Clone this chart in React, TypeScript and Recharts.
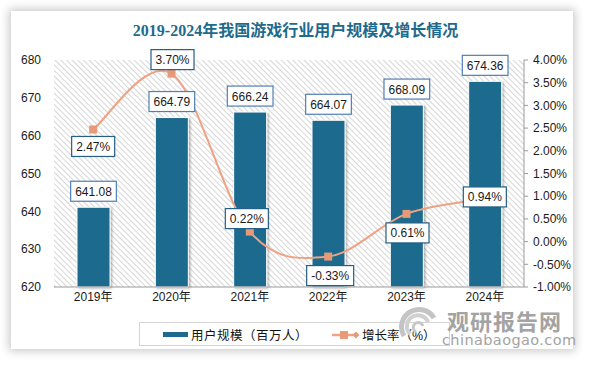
import React from 'react';
import { ComposedChart, Bar, Line, XAxis, YAxis, CartesianGrid, LabelList, Legend } from 'recharts';

const years = ['2019年', '2020年', '2021年', '2022年', '2023年', '2024年'];
const users = [641.08, 664.79, 666.24, 664.07, 668.09, 674.36];
const growth = [2.47, 3.7, 0.22, -0.33, 0.61, 0.94];
const leftTicks = [620, 630, 640, 650, 660, 670, 680];
const rightTicks = [-1, -0.5, 0, 0.5, 1, 1.5, 2, 2.5, 3, 3.5, 4];

const data = years.map((year, i) => ({ year, users: users[i], growth: growth[i] }));

// layout / style
const BAR = '#1d6a8e';
const LINE = '#eea283';
const MARK = '#e89a78';
const TITLE = '#1e6a8d';
const FONT = '"Liberation Sans", "Noto Sans CJK SC", sans-serif';
const growthLabelOffset: [number, number][] = [[0, 17], [1, -14], [-3, -13], [2, 19], [1, 19], [0, -2]];

function textWidth(s: string, size = 12) {
  let w = 0;
  for (const c of s) {
    if (/[0-9]/.test(c)) w += 0.556;
    else if (c === '.') w += 0.278;
    else if (c === '%') w += 0.889;
    else if (c === '-') w += 0.333;
    else w += 0.556;
  }
  return w * size;
}

const excelCurve: any = (context: any) => {
  let pts: number[][] = [];
  return {
    areaStart() {},
    areaEnd() {},
    lineStart() { pts = []; },
    point(x: number, y: number) { pts.push([+x, +y]); },
    lineEnd() {
      if (!pts.length) return;
      context.moveTo(pts[0][0], pts[0][1]);
      for (let i = 0; i < pts.length - 1; i++) {
        const p0 = pts[i - 1] || pts[i];
        const p1 = pts[i];
        const p2 = pts[i + 1];
        const p3 = pts[i + 2] || p2;
        const c1x = p1[0] + (p2[0] - p0[0]) / 6;
        const c1y = p1[1] + (p2[1] - p0[1]) / 6;
        const c2x = p2[0] - (p3[0] - p1[0]) / 6;
        const c2y = p2[1] - (p3[1] - p1[1]) / 6;
        context.bezierCurveTo(c1x, c1y, c2x, c2y, p2[0], p2[1]);
      }
    },
  };
};

function BoxLabel({ cx, cy, text, border }: { cx: number; cy: number; text: string; border: string }) {
  const w = textWidth(text) + 9;
  const h = 20;
  return (
    <g>
      <rect x={cx - w / 2} y={cy - h / 2} width={w} height={h} fill="#fff" stroke={border} strokeWidth={1.2} />
      <text x={cx} y={cy + 0.5} textAnchor="middle" dominantBaseline="central" fontSize={12} fill="#1a1a1a" fontFamily={FONT}>
        {text}
      </text>
    </g>
  );
}

const renderBarLabel = (props: any) => {
  const vb = props.viewBox || props;
  const x = vb.x ?? props.x;
  const y = vb.y ?? props.y;
  const width = vb.width ?? props.width ?? 0;
  const value = Number(props.value);
  return <BoxLabel cx={x + width / 2} cy={y - 16} text={value.toFixed(2)} border="#4f7fb5" />;
};

const renderLineLabel = (props: any) => {
  const vb = props.viewBox || props;
  const x = vb.x ?? props.x;
  const y = vb.y ?? props.y;
  const value = Number(props.value);
  let idx = typeof props.index === 'number' ? props.index : growth.indexOf(value);
  if (idx < 0) idx = 0;
  const [dx, dy] = growthLabelOffset[idx];
  return <BoxLabel cx={x + dx} cy={y + dy} text={value.toFixed(2) + '%'} border="#245f85" />;
};

const renderDot = (p: any) => (
  <rect key={'d' + p.index} x={p.cx - 4} y={p.cy - 4} width={8} height={8} fill={MARK} />
);

const LegendBox = () => (
  <div
    style={{
      position: 'relative', width: 311, height: 24, boxSizing: 'border-box',
      border: '1px solid #d4d4d4', background: '#fff', fontFamily: FONT, fontSize: 12.5, color: '#111',
    }}
  >
    <div style={{ position: 'absolute', left: 23, top: 9, width: 25, height: 5, background: BAR }} />
    <span style={{ position: 'absolute', left: 51, top: 2, letterSpacing: 0.5, whiteSpace: 'nowrap' }}>用户规模（百万人）</span>
    <svg style={{ position: 'absolute', left: 192, top: 5 }} width={30} height={14}>
      <line x1={0} y1={7} x2={26} y2={7} stroke={LINE} strokeWidth={2.5} />
      <rect x={8} y={3} width={8} height={8} fill={MARK} />
      <path d="M24,3.5 L27.5,7 L24,10.5 L20.5,7 Z" fill={MARK} />
    </svg>
    <span style={{ position: 'absolute', left: 222, top: 2, whiteSpace: 'nowrap' }}>增长率（%）</span>
  </div>
);

export default function App() {
  return (
    <div style={{ position: 'absolute', left: 0, top: 0, width: 591, height: 366, background: '#fff', overflow: 'hidden' }}>
      <svg width={0} height={0} style={{ position: 'absolute' }}>
        <defs>
          <pattern id="hatch" width={4} height={4} patternUnits="userSpaceOnUse" patternTransform="rotate(-45)">
            <rect x={0} y={0} width={4} height={4} fill="#ffffff" />
            <rect x={0} y={0} width={1} height={4} fill="#d6d6d6" />
          </pattern>
          <filter id="barShadow" x="-20%" y="-20%" width="140%" height="140%">
            <feDropShadow dx={1.5} dy={1} stdDeviation={1.2} floodColor="#000" floodOpacity={0.3} />
          </filter>
        </defs>
      </svg>
      <div
        style={{
          position: 'absolute', left: 11, top: 11, width: 562, height: 338, background: '#fff',
          boxShadow: '0 0 9px 2px rgba(0,0,0,0.22)',
        }}
      />
      <div
        style={{
          position: 'absolute', left: 0, top: 17, width: 591, textAlign: 'center', color: TITLE,
          fontFamily: '"Liberation Serif", "Noto Sans CJK SC", serif', fontWeight: 'bold', fontSize: 16,
          whiteSpace: 'nowrap',
        }}
      >
        2019-2024年我国游戏行业用户规模及增长情况
      </div>
      <div style={{ position: 'absolute', left: 0, top: 0 }}>
        <ComposedChart width={591} height={366} data={data} margin={{ top: 60, right: 7, bottom: 49, left: 10 }}>
          <CartesianGrid fill="url(#hatch)" horizontal={false} vertical={false} stroke="none" />
          <XAxis
            dataKey="year"
            axisLine={{ stroke: '#9a9a9a' }}
            tickLine={false}
            tickSize={0}
            tickMargin={5}
            tick={{ fontSize: 12, fill: '#1a1a1a', fontFamily: FONT }}
          />
          <YAxis
            yAxisId="left"
            domain={[620, 680]}
            ticks={leftTicks}
            width={44}
            axisLine={false}
            tickLine={false}
            tickSize={0}
            tickMargin={13}
            tick={{ fontSize: 12, fill: '#1a1a1a', fontFamily: FONT }}
          />
          <YAxis
            yAxisId="right"
            orientation="right"
            domain={[-1, 4]}
            ticks={rightTicks}
            width={60}
            axisLine={{ stroke: '#9a9a9a' }}
            tickLine={{ stroke: '#9a9a9a' }}
            tickSize={4}
            tickMargin={5}
            tickFormatter={(v: number) => v.toFixed(2) + '%'}
            tick={{ fontSize: 12, fill: '#1a1a1a', fontFamily: FONT }}
          />
          <Legend verticalAlign="middle" wrapperStyle={{ left: 139, top: 322, width: 311, height: 24 }} content={() => <LegendBox />} />
          <Bar
            yAxisId="left"
            dataKey="users"
            name="用户规模（百万人）"
            fill={BAR}
            stroke="#fff"
            strokeWidth={1}
            barSize={33}
            isAnimationActive={false}
            style={{ filter: 'url(#barShadow)' }}
          >
            <LabelList dataKey="users" content={renderBarLabel} />
          </Bar>
          <Line
            yAxisId="right"
            dataKey="growth"
            name="增长率（%）"
            type={excelCurve}
            stroke={LINE}
            strokeWidth={2}
            dot={renderDot}
            activeDot={false}
            isAnimationActive={false}
          >
            <LabelList dataKey="growth" content={renderLineLabel} />
          </Line>
        </ComposedChart>
      </div>
      <svg style={{ position: 'absolute', left: 396, top: 306 }} width={48} height={42}>
        <path d="M8,30 A17,17 0 1,1 38,12" fill="none" stroke="#c4c4c4" strokeWidth={5} />
        <path d="M14,28 A11,11 0 1,1 32,16" fill="none" stroke="#d0d0d0" strokeWidth={4} />
        <path d="M20,26 A5,5 0 1,1 27,20" fill="none" stroke="#c8c8c8" strokeWidth={3} />
      </svg>
      <div
        style={{
          position: 'absolute', left: 447, top: 309, color: '#a3a3a3', fontWeight: 'bold', fontSize: 22,
          fontFamily: '"Noto Sans CJK SC", sans-serif', whiteSpace: 'nowrap', lineHeight: '22px', letterSpacing: 1,
        }}
      >
        观研报告网
      </div>
      <div
        style={{
          position: 'absolute', left: 442, top: 333, color: '#a3a3a3', fontSize: 14.5,
          fontFamily: '"DejaVu Sans", sans-serif', whiteSpace: 'nowrap', lineHeight: '14px', letterSpacing: 0.4,
        }}
      >
        chinabaogao.com
      </div>
    </div>
  );
}
